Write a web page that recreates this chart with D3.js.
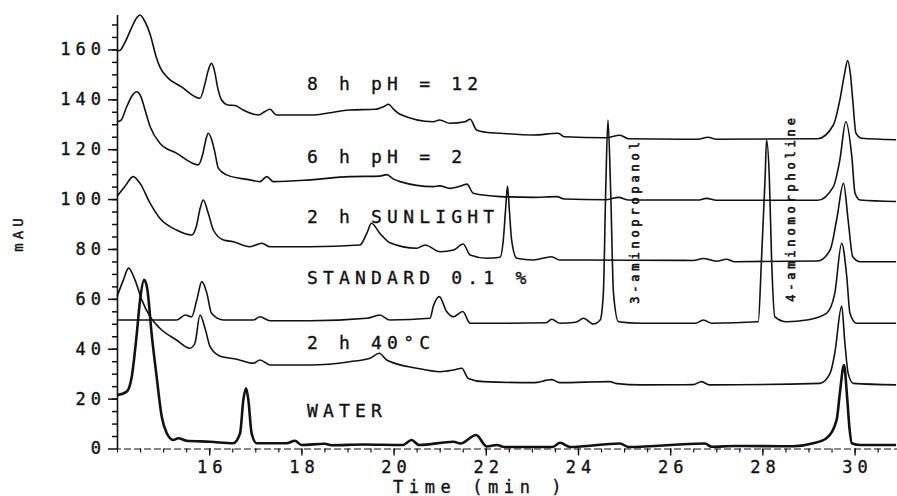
<!DOCTYPE html>
<html>
<head>
<meta charset="utf-8">
<script src="https://cdn.jsdelivr.net/npm/d3@7"></script>
<style>
  body { margin: 0; background: #fff; }
  svg { display: block; }
  text { font-family: "DejaVu Sans Mono", "Liberation Mono", monospace; fill: #111; stroke: #111; stroke-width: 0.35px; }
  .tick text { font-size: 17px; letter-spacing: 5px; }
  .trace { fill: none; stroke: #111; stroke-width: 1.6; stroke-linejoin: round; }
</style>
</head>
<body>
<div id="chart"></div>
<script>
// chromatograms, [time (min), mAU]
const ph12 = [[14.00,159.5],[14.06,159.6],[14.15,162],[14.30,168],[14.42,172.5],[14.50,173.8],[14.58,172],[14.72,166],[14.85,157],[14.93,153],[15.08,149],[15.40,145],[15.80,140.4],[15.91,146.4],[15.97,151],[16.05,154.4],[16.12,151],[16.18,145],[16.27,139.7],[16.41,137.7],[16.56,137.5],[16.74,135.7],[17.07,133.7],[17.20,135],[17.32,136],[17.46,133.7],[18.19,133.7],[19.05,135.7],[19.60,136],[19.80,137.2],[19.89,138],[20.00,136],[20.14,134],[20.86,131],[21.00,131.7],[21.22,130.4],[21.55,131],[21.66,132],[21.80,127.7],[22.00,126.8],[22.31,126.4],[23.03,125.7],[23.57,126.4],[23.70,125],[24.60,124.6],[24.91,125.6],[25.10,124.2],[26.60,124],[26.82,124.8],[27.00,124],[29.20,124.2],[29.54,129.7],[29.68,139.7],[29.78,150],[29.85,155.5],[29.91,150],[29.96,139.7],[30.03,126.4],[30.15,124.4],[30.90,123.8]];
const ph2 = [[14.00,131],[14.08,131.5],[14.21,137],[14.33,141.5],[14.43,143],[14.52,141],[14.62,135],[14.72,129],[14.93,122.4],[15.29,118.4],[15.76,113.7],[15.86,118],[15.93,124],[15.98,126.4],[16.05,124],[16.12,119],[16.20,112.3],[16.38,109.7],[16.88,107.7],[17.10,107],[17.25,109],[17.39,107],[18.19,107.7],[19.05,109],[19.70,109.2],[19.85,109.8],[20.00,108],[20.14,107],[20.86,105],[21.00,105.3],[21.22,104.3],[21.50,105.5],[21.59,106],[21.73,102.3],[22.31,101],[23.03,100.7],[23.54,101],[23.70,100],[24.60,99.7],[24.88,100.7],[25.10,99.6],[26.60,99.6],[26.79,100.3],[27.00,99.5],[29.20,99.5],[29.54,105],[29.68,115.7],[29.81,131],[29.94,117],[30.01,102.3],[30.12,99.6],[30.90,99]];
const sunlight = [[14.00,101],[14.17,105],[14.35,109],[14.50,106.3],[14.72,98.3],[14.93,92.3],[15.29,87.6],[15.62,85.6],[15.72,89],[15.80,96],[15.87,99.6],[15.98,94.3],[16.09,87.6],[16.31,83.6],[16.52,82.9],[16.88,80.9],[17.14,82.3],[17.32,80.9],[18.19,80.9],[19.27,81.6],[19.42,86.3],[19.52,90.3],[19.70,86.3],[19.92,82.5],[20.50,80.3],[20.68,81.6],[21.01,78.9],[21.30,79.6],[21.51,82],[21.66,77.6],[22.02,76.3],[22.31,76.7],[22.38,83.6],[22.43,96],[22.47,105.2],[22.51,96],[22.56,83.6],[22.67,76.3],[23.03,75.6],[23.43,76.9],[23.60,75.6],[23.90,75.6],[26.50,75.4],[26.72,76.2],[27.00,75.1],[27.22,75.9],[27.40,74.9],[29.20,75.2],[29.47,79.6],[29.61,91.6],[29.76,106.3],[29.86,91.6],[29.96,76.9],[30.12,74.9],[30.90,74.9]];
const standard = [[14.00,51.5],[15.29,51.5],[15.48,53.5],[15.62,52.8],[15.73,59.5],[15.84,66.9],[15.95,62.2],[16.05,54.2],[16.31,51.5],[16.96,51.5],[17.10,52.8],[17.32,51.2],[18.19,51.2],[19.42,52.2],[19.70,53.5],[19.92,51.5],[20.79,52.2],[20.86,56.9],[20.99,60.9],[21.15,54.9],[21.30,52.8],[21.50,54.9],[21.66,50.2],[22.31,50.2],[23.30,50.4],[23.43,51.8],[23.61,50.2],[23.95,50.6],[24.12,52.2],[24.33,49.9],[24.48,51.5],[24.55,62.2],[24.60,102.3],[24.65,131.7],[24.71,102.3],[24.77,62.2],[24.88,50.8],[25.35,50.2],[26.55,50.2],[26.72,51.5],[26.90,50.2],[27.91,50.8],[27.98,75.6],[28.06,109],[28.09,123.7],[28.15,109],[28.20,75.6],[28.27,52.8],[28.53,50.8],[28.96,51.5],[29.39,54.2],[29.57,62.2],[29.72,82.3],[29.83,68.9],[29.90,54.2],[30.04,50.2],[30.90,50.2]];
const heat40 = [[14.00,60.9],[14.14,67.6],[14.25,72.3],[14.39,67.6],[14.54,59.5],[14.72,52.8],[14.93,48.2],[15.29,43.5],[15.58,40.2],[15.69,42.2],[15.80,53.5],[15.91,48.2],[16.02,40.8],[16.23,37.1],[16.60,35.8],[16.96,34.2],[17.10,35.5],[17.32,33.5],[18.19,33.5],[19.05,34.8],[19.49,36.2],[19.69,38.2],[19.85,35.5],[20.50,32.2],[21.01,30.8],[21.30,31.5],[21.48,32.2],[21.62,28.1],[21.95,26.8],[23.03,26.4],[23.43,27.6],[23.60,26.4],[24.69,26.8],[24.85,26],[25.35,25.5],[26.50,25.6],[26.68,26.8],[26.85,25.5],[29.25,26.1],[29.47,30.2],[29.57,38.2],[29.72,57.1],[29.79,42.2],[29.86,30.2],[29.97,26.1],[30.90,25.5]];
const water = [[14.00,21.4],[14.21,22.8],[14.32,28.8],[14.43,46.2],[14.50,59.5],[14.59,67.6],[14.66,63.6],[14.75,46.2],[14.86,28.8],[14.97,12.8],[15.08,6.1],[15.22,3.4],[15.33,4.1],[15.51,3.1],[16.02,2.7],[16.52,2.1],[16.67,6.1],[16.74,19.4],[16.80,24.1],[16.85,19.4],[16.92,6.1],[17.03,2.1],[17.68,2.1],[17.86,3.1],[18.00,1.4],[18.51,1.9],[18.65,1.3],[19.34,1.6],[20.20,1.4],[20.39,3.4],[20.55,1.4],[21.30,2.7],[21.45,2.0],[21.79,5.4],[22.02,0.8],[22.24,1.4],[22.40,0.6],[23.45,0.6],[23.61,2.3],[23.83,0.6],[24.91,2.0],[25.10,0.6],[26.75,2.0],[26.90,0.7],[27.40,1.0],[28.67,0.9],[29.10,2.1],[29.39,4.1],[29.61,11.4],[29.68,22.1],[29.77,33.5],[29.84,20],[29.89,8],[29.94,2.1],[30.12,1.4],[30.90,1.4]];

// sample labels, each sits just above its own trace
const sampleNames = ["8 h pH = 12", "6 h pH = 2", "2 h SUNLIGHT", "STANDARD 0.1 %", "2 h 40°C", "WATER"];
const sampleLabelAt = [[18.12, 143.7], [18.12, 114.4], [18.12, 90.4], [18.12, 66], [18.12, 39.9], [18.12, 12.6]];
const peakNames = ["3-aminopropanol", "4-aminomorpholine"];
const peakLabelAt = [[25.24, 91.2], [28.62, 96.4]];

const yTicks = [0, 20, 40, 60, 80, 100, 120, 140, 160];
const xTicks = [16, 18, 20, 22, 24, 26, 28, 30];

const width = 897, height = 496;

const svg = d3.select('#chart')
    .append('svg')
    .attr('width', width)
    .attr('height', height);

const x = d3.scaleLinear().domain([14, 30.92]).range([117, 897]);
const y = d3.scaleLinear().domain([0, 174]).range([448.5, 14.5]);

// minor ticks first, majors drawn on top
svg.append('g')
    .attr('transform', 'translate(117,0)')
    .call(d3.axisLeft(y).tickValues(d3.range(5, 175, 5)).tickSize(5).tickFormat(''))
    .call(g => g.select('.domain').remove())
    .selectAll('line').attr('stroke', '#111').attr('stroke-width', 1.5);

svg.append('g')
    .attr('transform', 'translate(117,0)')
    .call(d3.axisLeft(y).tickValues(yTicks).tickSize(9).tickPadding(2).tickSizeOuter(0))
    .call(g => g.select('.domain').attr('stroke', '#111').attr('stroke-width', 1.6))
    .call(g => g.selectAll('line').attr('stroke', '#111').attr('stroke-width', 1.5));

svg.append('g')
    .attr('transform', 'translate(0,448.5)')
    .call(d3.axisBottom(x).tickValues(d3.range(14.5, 31, 0.5)).tickSize(4).tickFormat(''))
    .call(g => g.select('.domain').attr('stroke', '#111').attr('stroke-dasharray', '7,3'))
    .selectAll('line').attr('stroke', '#111').attr('stroke-width', 1.2);

svg.append('g')
    .attr('transform', 'translate(0,448.5)')
    .call(d3.axisBottom(x).tickValues(xTicks).tickSize(7).tickPadding(5).tickSizeOuter(0))
    .call(g => g.select('.domain').remove())
    .call(g => g.selectAll('line').attr('stroke', '#111').attr('stroke-width', 1.4))
    .call(g => g.selectAll('text').attr('dx', 2.5));

svg.append('text')
    .attr('transform', 'translate(23,233) rotate(-90)')
    .attr('text-anchor', 'middle')
    .style('font-size', '14px')
    .style('letter-spacing', '4px')
    .text('mAU');

svg.append('text')
    .attr('x', 393)
    .attr('y', 493)
    .style('font-size', '17px')
    .style('letter-spacing', '5.6px')
    .text('Time (min )');

const line = d3.line()
    .x(d => x(d[0]))
    .y(d => y(d[1]))
    .curve(d3.curveMonotoneX);

const traces = [ph12, ph2, sunlight, standard, heat40, water];
svg.append('g').selectAll('path')
    .data(traces)
    .enter()
    .append('path')
    .attr('class', 'trace')
    .attr('d', line)
    .style('stroke-width', (d, i) => i === 5 ? 2.6 : 1.6);

svg.append('g').selectAll('text')
    .data(sampleNames)
    .enter()
    .append('text')
    .attr('x', (d, i) => x(sampleLabelAt[i][0]))
    .attr('y', (d, i) => y(sampleLabelAt[i][1]))
    .style('font-size', '18px')
    .style('letter-spacing', '5.2px')
    .text(d => d);

svg.append('g').selectAll('text')
    .data(peakNames)
    .enter()
    .append('text')
    .attr('transform', (d, i) => `translate(${x(peakLabelAt[i][0])},${y(peakLabelAt[i][1])}) rotate(-90)`)
    .attr('text-anchor', 'middle')
    .attr('dy', '0.35em')
    .style('font-size', '12px')
    .style('letter-spacing', '3.8px')
    .style('stroke-width', '0.6px')
    .text(d => d);
</script>
</body>
</html>
